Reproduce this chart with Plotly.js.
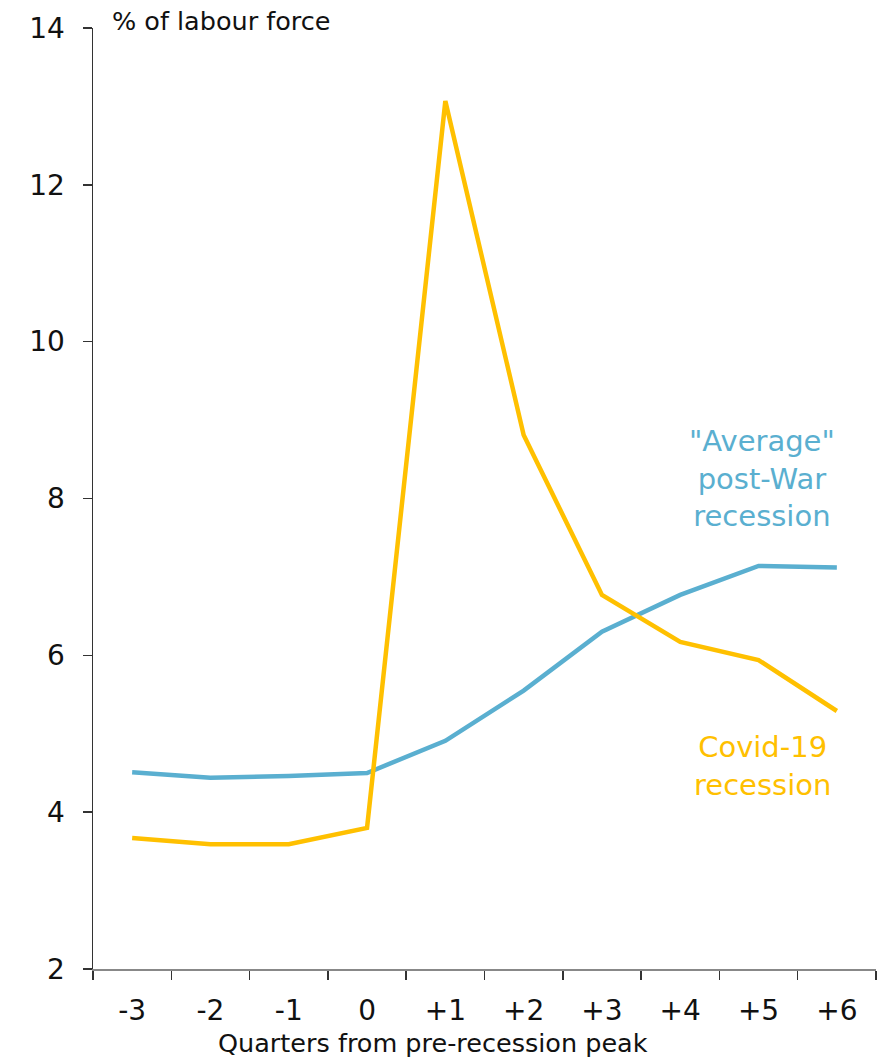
<!DOCTYPE html>
<html><head><meta charset="utf-8">
<script src="https://cdn.plot.ly/plotly-3.0.1.min.js"></script>
<style>html,body{margin:0;padding:0;background:#fff}</style>
</head><body>
<div id="chart" style="width:892px;height:1059px"></div>
<script>
var quarters = ["-3","-2","-1","0","+1","+2","+3","+4","+5","+6"];
var covid = [3.67, 3.59, 3.59, 3.80, 13.07, 8.81, 6.77, 6.17, 5.94, 5.29];
var average = [4.51, 4.44, 4.46, 4.50, 4.91, 5.55, 6.30, 6.77, 7.14, 7.12];
var yTicks = [2, 4, 6, 8, 10, 12, 14];

var FONT = "'DejaVu Sans', sans-serif";
var ORANGE = "#FFC000";
var BLUE = "#5AAFD0";

var traces = [
  {x: quarters, y: average, type: "scatter", mode: "lines", name: "Average",
   line: {color: BLUE, width: 4.5}},
  {x: quarters, y: covid, type: "scatter", mode: "lines", name: "Covid-19",
   line: {color: ORANGE, width: 4.5}}
];

var layout = {
  width: 892, height: 1059,
  margin: {l: 93, r: 16, t: 28, b: 90},
  paper_bgcolor: "#fff", plot_bgcolor: "#fff",
  showlegend: false,
  font: {family: FONT, size: 28, color: "#111"},
  xaxis: {
    type: "category", range: [-0.5, 9.5],
    tickson: "boundaries", ticks: "outside", ticklen: 9, tickwidth: 1.5, tickcolor: "#333",
    showline: true, linecolor: "#888", linewidth: 2, showgrid: false, zeroline: false,
    tickfont: {family: FONT, size: 28, color: "#111"}, ticklabelstandoff: 15
  },
  yaxis: {
    range: [2, 14], tickvals: yTicks, ticks: "outside", ticklen: 9, tickwidth: 1.5, tickcolor: "#333",
    showline: true, linecolor: "#333", linewidth: 1.5, showgrid: false, zeroline: false,
    tickfont: {family: FONT, size: 28, color: "#111"}, ticklabelstandoff: 12
  },
  annotations: [
    {xref: "paper", yref: "paper", x: 0.022, y: 1.0, xanchor: "left", yanchor: "middle", yshift: 7,
     text: "% of labour force", showarrow: false, font: {family: FONT, size: 25.5, color: "#111"}},
    {xref: "paper", yref: "paper", x: 0.434, y: 0, xanchor: "center", yanchor: "middle", yshift: -74,
     text: "Quarters from pre-recession peak", showarrow: false, font: {family: FONT, size: 25.5, color: "#111"}},
    {xref: "x", yref: "y", x: 8.05, y: 8.26, xanchor: "center", yanchor: "middle",
     text: "\"Average\"<br>post-War<br>recession", showarrow: false, align: "center",
     font: {family: FONT, size: 29, color: BLUE}},
    {xref: "x", yref: "y", x: 8.05, y: 4.59, xanchor: "center", yanchor: "middle",
     text: "Covid-19<br>recession", showarrow: false, align: "center",
     font: {family: FONT, size: 29, color: ORANGE}}
  ]
};

Plotly.newPlot("chart", traces, layout, {displayModeBar: false, staticPlot: true});
</script>
</body></html>
